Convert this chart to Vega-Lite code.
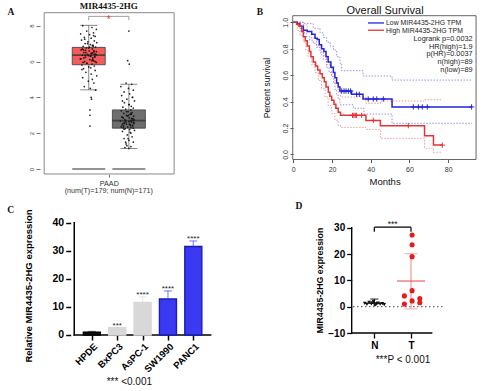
{
"$schema": "https://vega.github.io/schema/vega-lite/v6.json",
"width": 483, "height": 391, "padding": 0, "autosize": "none", "background": "white",
"config": {"view": {"stroke": null}, "axis": {"grid": false, "domain": false, "labelFont": "Liberation Sans", "titleFont": "Liberation Sans", "labelFlush": false, "labelOverlap": false}, "text": {"font": "Liberation Sans"}},
"datasets": {
"aBox": [{"g":"T","x":1,"q1":5.82,"q3":6.79,"med":6.36,"lo":4.42,"hi":8.02},{"g":"N","x":2,"q1":2.28,"q3":3.3,"med":2.7,"lo":1.14,"hi":4.73}],
"aPts": [{"x":0.85,"y":8.0},{"x":1.08,"y":7.9},{"x":1.19,"y":7.8},{"x":0.95,"y":7.7},{"x":1.12,"y":7.6},{"x":0.8,"y":7.55},{"x":1.02,"y":7.5},{"x":1.16,"y":7.4},{"x":0.89,"y":7.35},{"x":1.06,"y":7.3},
{"x":0.82,"y":7.2},{"x":1.14,"y":7.15},{"x":0.98,"y":7.1},{"x":1.2,"y":7.05},{"x":0.91,"y":7.0},{"x":1.04,"y":6.95},{"x":1.11,"y":6.9},{"x":0.86,"y":6.85},{"x":1.17,"y":6.8},{"x":0.94,"y":6.75},
{"x":1.09,"y":6.7},{"x":0.81,"y":6.65},{"x":1.01,"y":6.6},{"x":1.13,"y":6.55},{"x":0.88,"y":6.5},{"x":1.07,"y":6.45},{"x":0.97,"y":6.4},{"x":1.18,"y":6.38},{"x":0.84,"y":6.35},{"x":1.05,"y":6.3},
{"x":1.15,"y":6.28},{"x":0.92,"y":6.25},{"x":1.1,"y":6.2},{"x":0.79,"y":6.15},{"x":1.03,"y":6.1},{"x":1.12,"y":6.05},{"x":0.9,"y":6.0},{"x":1.19,"y":5.95},{"x":0.96,"y":5.9},{"x":1.08,"y":5.85},
{"x":0.83,"y":5.8},{"x":1.14,"y":5.75},{"x":1.0,"y":5.7},{"x":0.87,"y":5.6},{"x":1.16,"y":5.5},{"x":0.93,"y":5.4},{"x":1.06,"y":5.3},{"x":1.2,"y":5.2},{"x":0.85,"y":5.1},{"x":1.09,"y":5.0},
{"x":0.99,"y":4.9},{"x":1.13,"y":4.8},{"x":0.89,"y":4.6},{"x":1.04,"y":4.5},{"x":1.17,"y":4.4},{"x":1.06,"y":4.0},{"x":1.07,"y":3.9},{"x":1.03,"y":3.3},{"x":1.03,"y":3.0},{"x":1.03,"y":2.4},
{"x":1.1,"y":6.1},{"x":0.88,"y":6.2},{"x":1.04,"y":6.3},{"x":1.17,"y":6.4},{"x":0.93,"y":6.5},{"x":1.13,"y":6.6},{"x":0.84,"y":6.7},{"x":1.02,"y":6.8},{"x":1.09,"y":6.9},{"x":0.97,"y":7.0},
{"x":0.81,"y":6.15},{"x":1.15,"y":6.25},{"x":0.91,"y":6.35},{"x":1.06,"y":6.45},{"x":1.19,"y":6.55},{"x":0.87,"y":6.65},{"x":1.0,"y":6.75},{"x":1.11,"y":6.85},{"x":0.95,"y":5.9},{"x":1.16,"y":6.0},
{"x":0.86,"y":5.95},{"x":1.08,"y":6.05},{"x":0.9,"y":7.25},{"x":1.12,"y":7.45},{"x":1.05,"y":5.65},{"x":0.83,"y":5.55},{"x":1.14,"y":6.42},{"x":0.99,"y":6.33},{"x":1.1,"y":6.48},{"x":0.92,"y":6.62},
{"x":2.0,"y":7.7},{"x":1.97,"y":6.05},{"x":2.01,"y":5.85},{"x":1.93,"y":4.8},{"x":2.07,"y":4.73},{"x":1.8,"y":4.6},{"x":1.99,"y":4.5},{"x":2.11,"y":4.4},{"x":1.88,"y":4.3},{"x":2.02,"y":4.2},
{"x":1.82,"y":4.1},{"x":2.09,"y":4.0},{"x":1.95,"y":3.9},{"x":2.14,"y":3.8},{"x":1.89,"y":3.7},{"x":2.0,"y":3.6},{"x":2.06,"y":3.5},{"x":1.85,"y":3.45},{"x":2.11,"y":3.4},{"x":1.92,"y":3.35},
{"x":2.05,"y":3.3},{"x":1.81,"y":3.25},{"x":1.98,"y":3.2},{"x":2.08,"y":3.15},{"x":1.87,"y":3.1},{"x":2.03,"y":3.05},{"x":1.94,"y":3.0},{"x":2.12,"y":2.95},{"x":1.83,"y":2.9},{"x":2.01,"y":2.85},
{"x":2.1,"y":2.8},{"x":1.9,"y":2.75},{"x":2.06,"y":2.7},{"x":1.79,"y":2.68},{"x":2.0,"y":2.65},{"x":2.07,"y":2.6},{"x":1.88,"y":2.58},{"x":2.13,"y":2.55},{"x":1.94,"y":2.5},{"x":2.04,"y":2.48},
{"x":1.83,"y":2.45},{"x":2.09,"y":2.4},{"x":1.97,"y":2.35},{"x":1.86,"y":2.3},{"x":2.11,"y":2.28},{"x":1.91,"y":2.25},{"x":2.02,"y":2.2},{"x":2.14,"y":2.15},{"x":1.84,"y":2.1},{"x":2.05,"y":2.0},
{"x":1.96,"y":1.9},{"x":2.08,"y":1.8},{"x":1.88,"y":1.7},{"x":2.0,"y":1.6},{"x":2.11,"y":1.5},{"x":1.93,"y":1.4},{"x":1.95,"y":1.3},{"x":2.05,"y":1.25},{"x":1.9,"y":1.2},{"x":2.0,"y":1.15},
{"x":2.05,"y":2.3},{"x":1.87,"y":2.4},{"x":2.01,"y":2.5},{"x":2.12,"y":2.6},{"x":1.91,"y":2.7},{"x":2.08,"y":2.8},{"x":1.83,"y":2.9},{"x":1.99,"y":3.0},{"x":2.05,"y":3.1},{"x":1.94,"y":3.2},
{"x":1.81,"y":2.35},{"x":2.1,"y":2.45},{"x":1.89,"y":2.55},{"x":2.02,"y":2.65},{"x":2.13,"y":2.75},{"x":1.86,"y":2.85},{"x":1.97,"y":2.95},{"x":2.06,"y":3.05},{"x":1.93,"y":2.62},{"x":2.11,"y":2.72},
{"x":1.85,"y":2.52},{"x":2.04,"y":2.42},{"x":1.88,"y":2.22},{"x":2.07,"y":2.82},{"x":2.01,"y":3.6},{"x":1.84,"y":3.8},{"x":2.09,"y":4.0},{"x":1.98,"y":1.7},{"x":1.92,"y":1.5},{"x":2.03,"y":2.05}],
"bSurv": [
{"grp":"Low","month":0,"surv":1},{"grp":"Low","month":2,"surv":0.99},{"grp":"Low","month":3.4,"surv":0.97},{"grp":"Low","month":5.2,"surv":0.94},{"grp":"Low","month":7.2,"surv":0.93},{"grp":"Low","month":9.5,"surv":0.91},{"grp":"Low","month":11.2,"surv":0.88},{"grp":"Low","month":12.4,"surv":0.87},{"grp":"Low","month":13.4,"surv":0.83},{"grp":"Low","month":14.6,"surv":0.8},{"grp":"Low","month":15.8,"surv":0.78},{"grp":"Low","month":16.9,"surv":0.74},{"grp":"Low","month":18,"surv":0.7},{"grp":"Low","month":19.4,"surv":0.66},{"grp":"Low","month":20.7,"surv":0.62},{"grp":"Low","month":21.5,"surv":0.58},{"grp":"Low","month":22.4,"surv":0.54},{"grp":"Low","month":23.2,"surv":0.51},{"grp":"Low","month":24.1,"surv":0.48},{"grp":"Low","month":30.1,"surv":0.455},{"grp":"Low","month":36,"surv":0.42},{"grp":"Low","month":51,"surv":0.36},{"grp":"Low","month":92.4,"surv":0.36},
{"grp":"High","month":0,"surv":1},{"grp":"High","month":1.7,"surv":0.985},{"grp":"High","month":2.9,"surv":0.97},{"grp":"High","month":4.3,"surv":0.93},{"grp":"High","month":5.2,"surv":0.89},{"grp":"High","month":6.2,"surv":0.86},{"grp":"High","month":7.2,"surv":0.82},{"grp":"High","month":8.3,"surv":0.78},{"grp":"High","month":9.1,"surv":0.74},{"grp":"High","month":10.3,"surv":0.7},{"grp":"High","month":11.5,"surv":0.67},{"grp":"High","month":12.6,"surv":0.64},{"grp":"High","month":13.8,"surv":0.61},{"grp":"High","month":15,"surv":0.58},{"grp":"High","month":16,"surv":0.55},{"grp":"High","month":16.9,"surv":0.51},{"grp":"High","month":18.1,"surv":0.47},{"grp":"High","month":18.9,"surv":0.44},{"grp":"High","month":19.8,"surv":0.41},{"grp":"High","month":21,"surv":0.38},{"grp":"High","month":22,"surv":0.35},{"grp":"High","month":23.2,"surv":0.32},{"grp":"High","month":24.4,"surv":0.296},{"grp":"High","month":37.5,"surv":0.258},{"grp":"High","month":45,"surv":0.218},{"grp":"High","month":67.8,"surv":0.142},{"grp":"High","month":72.4,"surv":0.071},{"grp":"High","month":77,"surv":0.071}],
"bCI": [
{"grp":"Low","band":"u","month":0,"surv":1},{"grp":"Low","band":"u","month":5.2,"surv":0.99},{"grp":"Low","band":"u","month":10.3,"surv":0.955},{"grp":"Low","band":"u","month":13.8,"surv":0.92},{"grp":"Low","band":"u","month":15.5,"surv":0.885},{"grp":"Low","band":"u","month":17.2,"surv":0.85},{"grp":"Low","band":"u","month":19,"surv":0.82},{"grp":"Low","band":"u","month":20.7,"surv":0.79},{"grp":"Low","band":"u","month":22.4,"surv":0.74},{"grp":"Low","band":"u","month":24.1,"surv":0.689},{"grp":"Low","band":"u","month":25,"surv":0.634},{"grp":"Low","band":"u","month":36,"surv":0.594},{"grp":"Low","band":"u","month":51,"surv":0.563},{"grp":"Low","band":"u","month":92.4,"surv":0.563},
{"grp":"Low","band":"l","month":0,"surv":1},{"grp":"Low","band":"l","month":2,"surv":0.98},{"grp":"Low","band":"l","month":3.4,"surv":0.955},{"grp":"Low","band":"l","month":5,"surv":0.92},{"grp":"Low","band":"l","month":6.9,"surv":0.89},{"grp":"Low","band":"l","month":8.5,"surv":0.865},{"grp":"Low","band":"l","month":10.3,"surv":0.84},{"grp":"Low","band":"l","month":12,"surv":0.81},{"grp":"Low","band":"l","month":13.8,"surv":0.77},{"grp":"Low","band":"l","month":15.5,"surv":0.72},{"grp":"Low","band":"l","month":17.2,"surv":0.66},{"grp":"Low","band":"l","month":18.5,"surv":0.62},{"grp":"Low","band":"l","month":19.8,"surv":0.59},{"grp":"Low","band":"l","month":20.7,"surv":0.54},{"grp":"Low","band":"l","month":21.5,"surv":0.49},{"grp":"Low","band":"l","month":22.4,"surv":0.45},{"grp":"Low","band":"l","month":23.2,"surv":0.42},{"grp":"Low","band":"l","month":24.1,"surv":0.376},{"grp":"Low","band":"l","month":31,"surv":0.35},{"grp":"Low","band":"l","month":36.5,"surv":0.306},{"grp":"Low","band":"l","month":51,"surv":0.236},{"grp":"Low","band":"l","month":92.4,"surv":0.236},
{"grp":"High","band":"u","month":0,"surv":1},{"grp":"High","band":"u","month":5.2,"surv":0.98},{"grp":"High","band":"u","month":7.2,"surv":0.93},{"grp":"High","band":"u","month":9.5,"surv":0.88},{"grp":"High","band":"u","month":12,"surv":0.82},{"grp":"High","band":"u","month":14.6,"surv":0.75},{"grp":"High","band":"u","month":17.2,"surv":0.68},{"grp":"High","band":"u","month":19.8,"surv":0.6},{"grp":"High","band":"u","month":21.5,"surv":0.54},{"grp":"High","band":"u","month":23.2,"surv":0.47},{"grp":"High","band":"u","month":24.4,"surv":0.435},{"grp":"High","band":"u","month":37.5,"surv":0.387},{"grp":"High","band":"u","month":45,"surv":0.405},{"grp":"High","band":"u","month":67.8,"surv":0.415},{"grp":"High","band":"u","month":77,"surv":0.415},
{"grp":"High","band":"l","month":0,"surv":1},{"grp":"High","band":"l","month":2,"surv":0.94},{"grp":"High","band":"l","month":3.4,"surv":0.9},{"grp":"High","band":"l","month":5.2,"surv":0.85},{"grp":"High","band":"l","month":6.5,"surv":0.79},{"grp":"High","band":"l","month":7.7,"surv":0.74},{"grp":"High","band":"l","month":9.5,"surv":0.68},{"grp":"High","band":"l","month":11.2,"surv":0.62},{"grp":"High","band":"l","month":12.9,"surv":0.56},{"grp":"High","band":"l","month":14.6,"surv":0.5},{"grp":"High","band":"l","month":16.4,"surv":0.435},{"grp":"High","band":"l","month":18,"surv":0.37},{"grp":"High","band":"l","month":19.8,"surv":0.31},{"grp":"High","band":"l","month":21.5,"surv":0.26},{"grp":"High","band":"l","month":23.2,"surv":0.22},{"grp":"High","band":"l","month":24.4,"surv":0.205},{"grp":"High","band":"l","month":37.5,"surv":0.19},{"grp":"High","band":"l","month":45,"surv":0.122},{"grp":"High","band":"l","month":67.8,"surv":0.047},{"grp":"High","band":"l","month":72.4,"surv":0.017},{"grp":"High","band":"l","month":77,"surv":0.017}],
"bCens": [
{"grp":"Low","month":25,"surv":0.48},{"grp":"Low","month":26.2,"surv":0.48},{"grp":"Low","month":27.2,"surv":0.48},{"grp":"Low","month":28.4,"surv":0.48},{"grp":"Low","month":29.6,"surv":0.48},{"grp":"Low","month":32.7,"surv":0.455},{"grp":"Low","month":34.1,"surv":0.455},{"grp":"Low","month":38.7,"surv":0.42},{"grp":"Low","month":41.3,"surv":0.42},{"grp":"Low","month":43.1,"surv":0.42},{"grp":"Low","month":46.5,"surv":0.42},{"grp":"Low","month":62,"surv":0.36},{"grp":"Low","month":64.6,"surv":0.36},{"grp":"Low","month":66.6,"surv":0.36},{"grp":"Low","month":69.2,"surv":0.36},{"grp":"Low","month":92.1,"surv":0.36},
{"grp":"High","month":30.6,"surv":0.296},{"grp":"High","month":31.3,"surv":0.296},{"grp":"High","month":32,"surv":0.296},{"grp":"High","month":32.7,"surv":0.296},{"grp":"High","month":35.3,"surv":0.296},{"grp":"High","month":41.3,"surv":0.258},{"grp":"High","month":59.4,"surv":0.218},{"grp":"High","month":77,"surv":0.071}],
"cBars": [{"cell":"HPDE","x":1,"y":1.0,"hi":1.25,"sig":""},{"cell":"BxPC3","x":2,"y":2.6,"hi":2.6,"sig":"***"},{"cell":"AsPC-1","x":3,"y":11.6,"hi":13.6,"sig":"****"},{"cell":"SW1990","x":4,"y":12.8,"hi":15.7,"sig":"****"},{"cell":"PANC1","x":5,"y":31.5,"hi":33.5,"sig":"****"}],
"dN": [{"x":0.74,"y":1.3},{"x":0.8,"y":0.9},{"x":0.86,"y":1.6},{"x":0.92,"y":1.1},{"x":0.98,"y":1.9},{"x":1.04,"y":0.7},{"x":1.1,"y":1.4},{"x":1.16,"y":1.0},{"x":1.22,"y":1.2},{"x":1.27,"y":0.8},{"x":0.95,"y":1.5},{"x":1.07,"y":1.2}],
"dT": [{"x":2.03,"y":27.2},{"x":2.03,"y":23.5},{"x":2.03,"y":19.0},{"x":2.03,"y":6.1},{"x":1.82,"y":4.1},{"x":2.24,"y":3.05},{"x":2.03,"y":2.2},{"x":1.82,"y":1.0},{"x":2.24,"y":1.5}],
"dStat": [{"g":"N","x":1,"mean":1.3,"lo":0.2,"hi":2.9},{"g":"T","x":2,"mean":9.75,"lo":-0.8,"hi":20.2}]
},
"resolve": {"scale": {"x": "independent", "y": "independent", "color": "independent", "stroke": "independent"}},
"layer": [
{"layer": [
 {"data": {"values": [{}]}, "mark": {"type": "rect", "fillOpacity": 0, "stroke": "#8a8a8a", "strokeWidth": 1},
  "encoding": {
   "x": {"datum": -0.11, "type": "quantitative", "scale": {"domain": [-1.0854, 10.6951], "nice": false, "zero": false}, "axis": {"orient": "bottom", "offset": -217, "values": [1.5], "labelExpr": "'PAAD'", "tickSize": 3, "tickColor": "#777", "labelFontSize": 7.2, "labelColor": "#333", "labelPadding": 2, "title": null}},
   "x2": {"datum": 3.127},
   "y": {"datum": -0.279, "type": "quantitative", "scale": {"domain": [-12.3936, 9.4348], "nice": false, "zero": false}, "axis": {"orient": "left", "offset": -40, "values": [0, 2, 4, 6, 8], "labelAngle": -90, "tickSize": 4, "tickColor": "#777", "labelFontSize": 6, "labelColor": "#444", "labelPadding": 2, "title": null}},
   "y2": {"datum": 8.726}}},
 {"data": {"name": "aBox"}, "mark": {"type": "rule", "color": "#555", "strokeWidth": 0.7},
  "encoding": {"x": {"field": "x", "type": "quantitative"}, "y": {"field": "lo", "type": "quantitative"}, "y2": {"field": "hi"}}},
 {"data": {"name": "aBox"}, "mark": {"type": "tick", "orient": "horizontal", "size": 17, "thickness": 1, "color": "#555"},
  "encoding": {"x": {"field": "x", "type": "quantitative"}, "y": {"field": "hi", "type": "quantitative"}}},
 {"data": {"name": "aBox"}, "mark": {"type": "tick", "orient": "horizontal", "size": 17, "thickness": 1, "color": "#555"},
  "encoding": {"x": {"field": "x", "type": "quantitative"}, "y": {"field": "lo", "type": "quantitative"}}},
 {"data": {"name": "aBox"}, "mark": {"type": "bar", "orient": "vertical", "size": 33, "stroke": "#3c3c3c", "strokeWidth": 0.8},
  "encoding": {"x": {"field": "x", "type": "quantitative"}, "y": {"field": "q1", "type": "quantitative"}, "y2": {"field": "q3"},
   "color": {"field": "g", "type": "nominal", "scale": {"domain": ["T", "N"], "range": ["#f25c5c", "#6e6e6e"]}, "legend": null}}},
 {"data": {"name": "aBox"}, "mark": {"type": "tick", "orient": "horizontal", "size": 33, "thickness": 1.6, "color": "#2b2b2b"},
  "encoding": {"x": {"field": "x", "type": "quantitative"}, "y": {"field": "med", "type": "quantitative"}}},
 {"data": {"name": "aBox"}, "mark": {"type": "tick", "orient": "horizontal", "size": 33, "thickness": 2.2, "color": "#666"},
  "encoding": {"x": {"field": "x", "type": "quantitative"}, "y": {"datum": 0, "type": "quantitative"}}},
 {"data": {"name": "aPts"}, "mark": {"type": "circle", "size": 3, "color": "#111", "opacity": 0.9},
  "encoding": {"x": {"field": "x", "type": "quantitative"}, "y": {"field": "y", "type": "quantitative"}}},
 {"data": {"values": [{}]}, "mark": {"type": "rule", "color": "#888", "strokeWidth": 0.8},
  "encoding": {"x": {"datum": 1, "type": "quantitative"}, "x2": {"datum": 2}, "y": {"datum": 8.52, "type": "quantitative"}}},
 {"data": {"name": "aBox"}, "mark": {"type": "rule", "color": "#888", "strokeWidth": 0.8},
  "encoding": {"x": {"field": "x", "type": "quantitative"}, "y": {"datum": 8.3, "type": "quantitative"}, "y2": {"datum": 8.52}}},
 {"data": {"values": [{}]}, "mark": {"type": "text", "text": "*", "color": "#e8302f", "fontSize": 10, "baseline": "alphabetic"},
  "encoding": {"x": {"datum": 1.5, "type": "quantitative"}, "y": {"datum": 8.16, "type": "quantitative"}}},
 {"data": {"values": [{}]}, "mark": {"type": "text", "text": "A", "font": "Liberation Serif", "fontWeight": "bold", "fontSize": 9.5, "color": "#111"},
  "encoding": {"x": {"datum": -0.939, "type": "quantitative"}, "y": {"datum": 8.75, "type": "quantitative"}}},
 {"data": {"values": [{}]}, "mark": {"type": "text", "text": "MIR4435-2HG", "font": "Liberation Serif", "fontWeight": "bold", "fontSize": 9, "color": "#111"},
  "encoding": {"x": {"datum": 1.5, "type": "quantitative"}, "y": {"datum": 9.1, "type": "quantitative"}}},
 {"data": {"values": [{}]}, "mark": {"type": "text", "text": "(num(T)=179; num(N)=171)", "fontSize": 7.2, "color": "#333"},
  "encoding": {"x": {"datum": 1.5, "type": "quantitative"}, "y": {"datum": -1.228, "type": "quantitative"}}}
]},
{"layer": [
 {"data": {"values": [{}]}, "mark": {"type": "rect", "fillOpacity": 0, "stroke": "#555", "strokeWidth": 0.9},
  "encoding": {
   "x": {"datum": -0.3, "type": "quantitative", "scale": {"domain": [-151.498, 97.985], "nice": false, "zero": false}, "axis": {"orient": "bottom", "offset": -231.5, "values": [0, 20, 40, 60, 80], "tickSize": 3, "tickColor": "#555", "labelFontSize": 7, "labelColor": "#333", "labelPadding": 3, "title": null}},
   "x2": {"datum": 94.4},
   "y": {"datum": -0.0378, "type": "quantitative", "scale": {"domain": [-1.78896, 1.16868], "nice": false, "zero": false}, "axis": {"orient": "left", "offset": -293, "values": [0, 0.2, 0.4, 0.6, 0.8, 1], "format": ".1f", "labelAngle": -90, "tickSize": 3, "tickColor": "#555", "labelFontSize": 7, "labelColor": "#333", "labelPadding": 2, "title": null}},
   "y2": {"datum": 1.05}}},
 {"data": {"name": "bCI"}, "mark": {"type": "line", "interpolate": "step-after", "strokeDash": [1.5, 1.5], "strokeWidth": 0.9, "opacity": 0.55},
  "encoding": {"x": {"field": "month", "type": "quantitative"}, "y": {"field": "surv", "type": "quantitative"}, "detail": {"field": "band"},
   "color": {"field": "grp", "type": "nominal", "scale": {"domain": ["Low", "High"], "range": ["#2424d8", "#e23434"]}, "legend": null}}},
 {"data": {"name": "bSurv"}, "mark": {"type": "line", "interpolate": "step-after", "strokeWidth": 1.5},
  "encoding": {"x": {"field": "month", "type": "quantitative"}, "y": {"field": "surv", "type": "quantitative"}, "color": {"field": "grp", "type": "nominal", "legend": null}}},
 {"data": {"name": "bCens"}, "mark": {"type": "point", "shape": "M-1,0H1M0,-1V1", "size": 28, "strokeWidth": 1, "filled": false, "opacity": 1},
  "encoding": {"x": {"field": "month", "type": "quantitative"}, "y": {"field": "surv", "type": "quantitative"}, "color": {"field": "grp", "type": "nominal", "legend": null}}},
 {"data": {"values": [{}]}, "mark": {"type": "rule", "strokeWidth": 1.3},
  "encoding": {"x": {"datum": 38.6, "type": "quantitative"}, "x2": {"datum": 46.85}, "y": {"datum": 0.995, "type": "quantitative"}, "color": {"datum": "Low", "type": "nominal", "legend": null}}},
 {"data": {"values": [{}]}, "mark": {"type": "rule", "strokeWidth": 1.3},
  "encoding": {"x": {"datum": 38.6, "type": "quantitative"}, "x2": {"datum": 46.85}, "y": {"datum": 0.94, "type": "quantitative"}, "color": {"datum": "High", "type": "nominal", "legend": null}}},
 {"data": {"values": [{}]}, "mark": {"type": "text", "text": ["Low MIR4435-2HG TPM", "High MIR4435-2HG TPM"], "lineHeight": 7.3, "align": "left", "baseline": "alphabetic", "fontSize": 6.9, "color": "#222"},
  "encoding": {"x": {"datum": 47.9, "type": "quantitative"}, "y": {"datum": 0.978, "type": "quantitative"}}},
 {"data": {"values": [{}]}, "mark": {"type": "text", "text": ["Logrank p=0.0032", "HR(high)=1.9", "p(HR)=0.0037", "n(high)=89", "n(low)=89"], "lineHeight": 7.8, "align": "right", "baseline": "alphabetic", "fontSize": 7.3, "color": "#222"},
  "encoding": {"x": {"datum": 92.6, "type": "quantitative"}, "y": {"datum": 0.86, "type": "quantitative"}}},
 {"data": {"values": [{}]}, "mark": {"type": "text", "text": "Overall Survival", "fontSize": 11, "color": "#111"},
  "encoding": {"x": {"datum": 47.4, "type": "quantitative"}, "y": {"datum": 1.0855, "type": "quantitative"}}},
 {"data": {"values": [{}]}, "mark": {"type": "text", "text": "B", "font": "Liberation Serif", "fontWeight": "bold", "fontSize": 9.5, "color": "#111"},
  "encoding": {"x": {"datum": -17.2, "type": "quantitative"}, "y": {"datum": 1.0764, "type": "quantitative"}}},
 {"data": {"values": [{}]}, "mark": {"type": "text", "text": "Percent survival", "angle": 270, "fontSize": 8.5, "color": "#111"},
  "encoding": {"x": {"datum": -13.6, "type": "quantitative"}, "y": {"datum": 0.503, "type": "quantitative"}}},
 {"data": {"values": [{}]}, "mark": {"type": "text", "text": "Months", "fontSize": 9.5, "color": "#111"},
  "encoding": {"x": {"datum": 47.4, "type": "quantitative"}, "y": {"datum": -0.2103, "type": "quantitative"}}}
]},
{"layer": [
 {"data": {"values": [{}]}, "mark": {"type": "rule", "color": "#000", "strokeWidth": 1.5, "strokeCap": "square"},
  "encoding": {
   "x": {"datum": 0.305, "type": "quantitative", "scale": {"domain": [-2.4247, 16.2239], "nice": false, "zero": false}, "axis": {"orient": "bottom", "offset": -56, "values": [1, 2, 3, 4, 5], "labelExpr": "['','HPDE','BxPC3','AsPC-1','SW1990','PANC1'][datum.value]", "labelAngle": -45, "labelFontSize": 9.5, "labelFontWeight": "bold", "labelColor": "#000", "tickSize": 5, "tickWidth": 1.5, "tickColor": "#000", "labelPadding": 1, "title": null}},
   "y": {"datum": 0, "type": "quantitative", "scale": {"domain": [-19.9466, 119.3232], "nice": false, "zero": false}, "axis": {"orient": "left", "offset": -70.7, "values": [0, 10, 20, 30, 40], "labelFontSize": 10.5, "labelFontWeight": "bold", "labelColor": "#000", "tickSize": 5, "tickWidth": 1.5, "tickColor": "#000", "labelPadding": 2, "title": null}},
   "y2": {"datum": 40}}},
 {"data": {"values": [{}]}, "mark": {"type": "rule", "color": "#000", "strokeWidth": 1.5, "strokeCap": "square"},
  "encoding": {"x": {"datum": 0.305, "type": "quantitative"}, "x2": {"datum": 5.683}, "y": {"datum": 0, "type": "quantitative"}}},
 {"data": {"name": "cBars"}, "mark": {"type": "bar", "orient": "vertical", "size": 17, "strokeWidth": 1.4},
  "encoding": {"x": {"field": "x", "type": "quantitative"}, "y": {"field": "y", "type": "quantitative"},
   "color": {"field": "cell", "type": "nominal", "scale": {"domain": ["HPDE", "BxPC3", "AsPC-1", "SW1990", "PANC1"], "range": ["#111111", "#d8d8d8", "#d8d8d8", "#3a3af2", "#3a3af2"]}, "legend": null},
   "stroke": {"field": "cell", "type": "nominal", "scale": {"domain": ["HPDE", "BxPC3", "AsPC-1", "SW1990", "PANC1"], "range": ["#000000", "#d8d8d8", "#d8d8d8", "#1b1bb5", "#1b1bb5"]}, "legend": null}}},
 {"data": {"name": "cBars"}, "mark": {"type": "rule", "strokeWidth": 1.3, "opacity": 0.55},
  "encoding": {"x": {"field": "x", "type": "quantitative"}, "y": {"field": "y", "type": "quantitative"}, "y2": {"field": "hi"}, "color": {"field": "cell", "type": "nominal", "legend": null}}},
 {"data": {"name": "cBars"}, "mark": {"type": "tick", "orient": "horizontal", "size": 8, "thickness": 1.3, "opacity": 0.55},
  "encoding": {"x": {"field": "x", "type": "quantitative"}, "y": {"field": "hi", "type": "quantitative"}, "color": {"field": "cell", "type": "nominal", "legend": null}}},
 {"data": {"name": "cBars"}, "mark": {"type": "text", "fontSize": 8, "baseline": "alphabetic", "color": "#222"},
  "encoding": {"x": {"field": "x", "type": "quantitative"}, "y": {"field": "hi", "type": "quantitative"}, "text": {"field": "sig"}}},
 {"data": {"values": [{}]}, "mark": {"type": "text", "text": "C", "font": "Liberation Serif", "fontWeight": "bold", "fontSize": 9.5, "color": "#111"},
  "encoding": {"x": {"datum": -2.205, "type": "quantitative"}, "y": {"datum": 44.52, "type": "quantitative"}}},
 {"data": {"values": [{}]}, "mark": {"type": "text", "text": "Relative MIR4435-2HG expression", "angle": 270, "fontSize": 9.5, "fontWeight": "bold", "color": "#000"},
  "encoding": {"x": {"datum": -1.459, "type": "quantitative"}, "y": {"datum": 17.45, "type": "quantitative"}}},
 {"data": {"values": [{}]}, "mark": {"type": "text", "text": "*** <0.001", "fontSize": 10, "color": "#111"},
  "encoding": {"x": {"datum": 2.479, "type": "quantitative"}, "y": {"datum": -16.74, "type": "quantitative"}}}
]},
{"layer": [
 {"data": {"values": [{}]}, "mark": {"type": "rule", "color": "#000", "strokeWidth": 1.4, "strokeCap": "square"},
  "encoding": {
   "x": {"datum": 0.384, "type": "quantitative", "scale": {"domain": [-9.1989, 3.9619], "nice": false, "zero": false}, "axis": {"orient": "bottom", "offset": -58, "values": [1, 2], "labelExpr": "datum.value == 1 ? 'N' : 'T'", "labelFontSize": 10, "labelFontWeight": "bold", "labelColor": "#000", "tickSize": 5, "tickWidth": 1.3, "tickColor": "#000", "labelPadding": 2, "title": null}},
   "y": {"datum": -10, "type": "quantitative", "scale": {"domain": [-32.0127, 116.468], "nice": false, "zero": false}, "axis": {"orient": "left", "offset": -351.7, "values": [-10, 0, 10, 20, 30], "labelFontSize": 10, "labelFontWeight": "bold", "labelColor": "#000", "tickSize": 5, "tickWidth": 1.3, "tickColor": "#000", "labelPadding": 2, "title": null}},
   "y2": {"datum": 30}}},
 {"data": {"values": [{}]}, "mark": {"type": "rule", "color": "#000", "strokeWidth": 1.4, "strokeCap": "square"},
  "encoding": {"x": {"datum": 0.384, "type": "quantitative"}, "x2": {"datum": 2.564}, "y": {"datum": -10, "type": "quantitative"}}},
 {"data": {"values": [{}]}, "mark": {"type": "rule", "color": "#444", "strokeWidth": 1, "strokeDash": [1.5, 2.5]},
  "encoding": {"x": {"datum": 0.42, "type": "quantitative"}, "x2": {"datum": 2.926}, "y": {"datum": 0, "type": "quantitative"}}},
 {"data": {"name": "dStat"}, "transform": [{"filter": "datum.g == 'N'"}], "mark": {"type": "rule", "color": "#000", "strokeWidth": 1.2},
  "encoding": {"x": {"field": "x", "type": "quantitative"}, "y": {"field": "lo", "type": "quantitative"}, "y2": {"field": "hi"}}},
 {"data": {"name": "dStat"}, "transform": [{"filter": "datum.g == 'N'"}], "mark": {"type": "tick", "orient": "horizontal", "size": 8, "thickness": 1.3, "color": "#000"},
  "encoding": {"x": {"field": "x", "type": "quantitative"}, "y": {"field": "hi", "type": "quantitative"}}},
 {"data": {"name": "dStat"}, "transform": [{"filter": "datum.g == 'N'"}], "mark": {"type": "tick", "orient": "horizontal", "size": 20, "thickness": 1.5, "color": "#000"},
  "encoding": {"x": {"field": "x", "type": "quantitative"}, "y": {"field": "mean", "type": "quantitative"}}},
 {"data": {"name": "dStat"}, "transform": [{"filter": "datum.g == 'T'"}], "mark": {"type": "rule", "color": "#f3a0a0", "strokeWidth": 1.3},
  "encoding": {"x": {"field": "x", "type": "quantitative"}, "y": {"field": "lo", "type": "quantitative"}, "y2": {"field": "hi"}}},
 {"data": {"name": "dStat"}, "transform": [{"filter": "datum.g == 'T'"}], "mark": {"type": "tick", "orient": "horizontal", "size": 13, "thickness": 1.3, "color": "#f3a0a0"},
  "encoding": {"x": {"field": "x", "type": "quantitative"}, "y": {"field": "hi", "type": "quantitative"}}},
 {"data": {"name": "dStat"}, "transform": [{"filter": "datum.g == 'T'"}], "mark": {"type": "tick", "orient": "horizontal", "size": 13, "thickness": 1.3, "color": "#f3a0a0"},
  "encoding": {"x": {"field": "x", "type": "quantitative"}, "y": {"field": "lo", "type": "quantitative"}}},
 {"data": {"name": "dStat"}, "transform": [{"filter": "datum.g == 'T'"}], "mark": {"type": "tick", "orient": "horizontal", "size": 28, "thickness": 1.5, "color": "#ec4a4a"},
  "encoding": {"x": {"field": "x", "type": "quantitative"}, "y": {"field": "mean", "type": "quantitative"}}},
 {"data": {"name": "dN"}, "mark": {"type": "point", "shape": "triangle-down", "filled": true, "size": 14, "color": "#111", "opacity": 1},
  "encoding": {"x": {"field": "x", "type": "quantitative"}, "y": {"field": "y", "type": "quantitative"}}},
 {"data": {"name": "dT"}, "mark": {"type": "circle", "size": 26, "color": "#e31c1c", "opacity": 1},
  "encoding": {"x": {"field": "x", "type": "quantitative"}, "y": {"field": "y", "type": "quantitative"}}},
 {"data": {"values": [{}]}, "mark": {"type": "rule", "color": "#000", "strokeWidth": 1.2},
  "encoding": {"x": {"datum": 1, "type": "quantitative"}, "x2": {"datum": 2}, "y": {"datum": 30.2, "type": "quantitative"}}},
 {"data": {"name": "dStat"}, "mark": {"type": "rule", "color": "#000", "strokeWidth": 1.2},
  "encoding": {"x": {"field": "x", "type": "quantitative"}, "y": {"datum": 28.5, "type": "quantitative"}, "y2": {"datum": 30.2}}},
 {"data": {"values": [{}]}, "mark": {"type": "text", "text": "***", "fontSize": 8.5, "baseline": "alphabetic", "color": "#111"},
  "encoding": {"x": {"datum": 1.5, "type": "quantitative"}, "y": {"datum": 30.1, "type": "quantitative"}}},
 {"data": {"values": [{}]}, "mark": {"type": "text", "text": "D", "font": "Liberation Serif", "fontWeight": "bold", "fontSize": 9.5, "color": "#111"},
  "encoding": {"x": {"datum": -1.052, "type": "quantitative"}, "y": {"datum": 38.24, "type": "quantitative"}}},
 {"data": {"values": [{}]}, "mark": {"type": "text", "text": "MIR4435-2HG expression", "angle": 270, "fontSize": 8.8, "fontWeight": "bold", "color": "#000"},
  "encoding": {"x": {"datum": -0.48, "type": "quantitative"}, "y": {"datum": 9.95, "type": "quantitative"}}},
 {"data": {"values": [{}]}, "mark": {"type": "text", "text": "***P < 0.001", "fontSize": 10, "color": "#111"},
  "encoding": {"x": {"datum": 1.782, "type": "quantitative"}, "y": {"datum": -20.24, "type": "quantitative"}}}
]}
]
}
